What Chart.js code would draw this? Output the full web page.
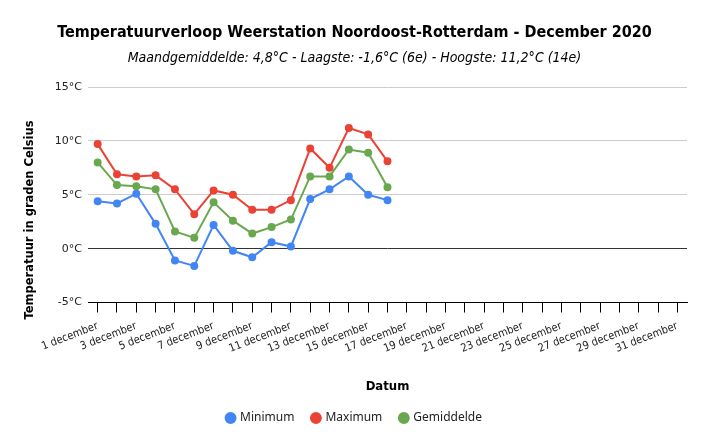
<!DOCTYPE html>
<html>
<head>
<meta charset="utf-8">
<script src="https://cdn.jsdelivr.net/npm/chart.js@4"></script>
<style>
  body { margin: 0; background: #fff; }
  #wrap { width: 709px; height: 447px; }
</style>
</head>
<body>
<div id="wrap"><canvas id="myChart"></canvas></div>
<script>
const days = [];
for (let d = 1; d <= 31; d++) days.push(d + ' december');

const minimum = [4.4, 4.2, 5.1, 2.3, -1.1, -1.6, 2.2, -0.2, -0.8, 0.6, 0.2, 4.6, 5.5, 6.7, 5.0, 4.5];
const maximum = [9.7, 6.9, 6.7, 6.8, 5.5, 3.2, 5.4, 5.0, 3.6, 3.6, 4.5, 9.3, 7.5, 11.2, 10.6, 8.1];
const gemiddelde = [8.0, 5.9, 5.8, 5.5, 1.6, 1.0, 4.3, 2.6, 1.4, 2.0, 2.7, 6.7, 6.7, 9.2, 8.9, 5.7];

const Y_TITLE = 'Temperatuur in graden Celsius';

const COLORS = {
    blue: '#4285f4',
    red: '#ea4335',
    green: '#6aa84f'
};

function serie(label, values, color) {
    return {
        label: label,
        data: values,
        borderColor: color,
        backgroundColor: color,
        borderWidth: 2,
        pointRadius: 3,
        pointHoverRadius: 4,
        fill: false,
        tension: 0
    };
}

// y-as titel zelf tekenen, iets lager dan het midden (zoals het origineel)
const yTitlePlugin = {
    id: 'yTitle',
    afterDraw(chart) {
        const c = chart.ctx;
        c.save();
        c.translate(30, 220);
        c.rotate(-Math.PI / 2);
        c.font = 'bold 11.5px "DejaVu Sans"';
        c.fillStyle = '#000';
        c.textAlign = 'center';
        c.textBaseline = 'middle';
        c.fillText(Y_TITLE, 0, 0);
        c.restore();
    }
};

const ctx = document.getElementById('myChart');
new Chart(ctx, {
    type: 'line',
    data: {
        labels: days,
        datasets: [
            serie('Minimum', minimum, COLORS.blue),
            serie('Maximum', maximum, COLORS.red),
            serie('Gemiddelde', gemiddelde, COLORS.green)
        ]
    },
    plugins: [yTitlePlugin],
    options: {
        responsive: true,
        maintainAspectRatio: false,
        animation: false,
        layout: { padding: { top: 23, left: 22, right: 22, bottom: 13 } },
        plugins: {
            title: {
                display: true,
                text: 'Temperatuurverloop Weerstation Noordoost-Rotterdam - December 2020',
                color: '#000',
                font: { family: 'DejaVu Sans Condensed', size: 16, weight: 'bold' },
                padding: { top: 0, bottom: 8 }
            },
            subtitle: {
                display: true,
                text: 'Maandgemiddelde: 4,8°C - Laagste: -1,6°C (6e) - Hoogste: 11,2°C (14e)',
                color: '#000',
                font: { family: 'DejaVu Sans Condensed', size: 14, style: 'italic' },
                padding: { top: 0, bottom: 20 }
            },
            legend: {
                position: 'bottom',
                labels: {
                    usePointStyle: true,
                    pointStyle: 'circle',
                    boxWidth: 7,
                    boxHeight: 7,
                    padding: 18,
                    color: '#222',
                    font: { family: 'Noto Sans', size: 12 }
                }
            }
        },
        scales: {
            x: {
                offset: true,
                border: { display: true, color: '#000', width: 1 },
                grid: {
                    offset: false,
                    drawOnChartArea: false,
                    drawTicks: true,
                    tickLength: 10,
                    color: '#000'
                },
                ticks: {
                    autoSkip: false,
                    maxRotation: 21,
                    minRotation: 21,
                    padding: 7,
                    color: '#222',
                    font: { family: 'DejaVu Sans Condensed', size: 11 },
                    callback: function (val, index) {
                        return index % 2 === 0 ? this.getLabelForValue(val) : '';
                    }
                },
                title: {
                    display: true,
                    text: 'Datum',
                    color: '#000',
                    padding: { top: 16, bottom: 0 },
                    font: { family: 'DejaVu Sans Condensed', size: 13, weight: 'bold' }
                }
            },
            y: {
                min: -5,
                max: 15,
                border: { display: false },
                afterFit: function (scale) { scale.width = 66; },
                grid: {
                    drawTicks: false,
                    color: function (c) {
                        return c.tick.value <= 0 ? '#333' : '#cccccc';
                    }
                },
                ticks: {
                    stepSize: 5,
                    padding: 6,
                    color: '#222',
                    font: { family: 'DejaVu Sans', size: 11 },
                    callback: function (v) { return v + '°C'; }
                }
            }
        }
    }
});
</script>
</body>
</html>
